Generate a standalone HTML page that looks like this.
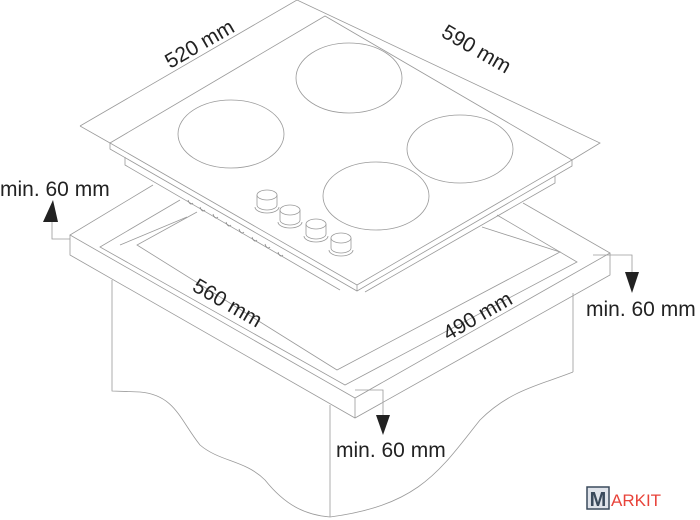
<!DOCTYPE html>
<html><head><meta charset="utf-8"><style>
html,body{margin:0;padding:0;background:#fff}
svg{display:block}
text{font-family:"Liberation Sans",sans-serif;fill:#222}
</style></head><body>
<svg width="700" height="520" viewBox="0 0 700 520" xmlns="http://www.w3.org/2000/svg">
<g fill="none" stroke="#9a9a9a" stroke-width="0.8">
<polyline points="80,126 297,0 600,143 572,160"/>
<line x1="80" y1="126" x2="110" y2="143"/>
<polygon points="110,143 325,16 572,160 357,285"/>
<polyline points="110,143 110,149 357,291 572,166 572,160"/>
<line x1="357" y1="285" x2="357" y2="291"/>
<polyline points="125,157 125,165 340,290"/>
<polyline points="555,176 555,183 365,292"/>
<g stroke="#888">
<path d="M188,200 q2,6 5,3 M200,207 q2,6 5,3 M213,214 q2,6 5,3 M226,222 q2,6 5,3 M239,229 q2,6 5,3 M252,237 q2,6 5,3 M265,244 q2,6 5,3 M278,252 q2,6 5,3"/>
</g>
<ellipse cx="231" cy="134" rx="53" ry="34"/>
<ellipse cx="349" cy="78" rx="53" ry="35"/>
<ellipse cx="460" cy="149" rx="53" ry="34"/>
<ellipse cx="376" cy="196" rx="53" ry="34"/>
<g>
<path d="M257,195 v10 a10,5 0 0 0 20,0 v-10"/><ellipse cx="267" cy="195" rx="10" ry="5"/><path d="M255,207 a12,6 0 0 0 24,0"/>
<path d="M280,210 v10 a10,5 0 0 0 20,0 v-10"/><ellipse cx="290" cy="210" rx="10" ry="5"/><path d="M278,222 a12,6 0 0 0 24,0"/>
<path d="M306,224 v10 a10,5 0 0 0 20,0 v-10"/><ellipse cx="316" cy="224" rx="10" ry="5"/><path d="M304,236 a12,6 0 0 0 24,0"/>
<path d="M331,238 v10 a10,5 0 0 0 20,0 v-10"/><ellipse cx="341" cy="238" rx="10" ry="5"/><path d="M329,250 a12,6 0 0 0 24,0"/>
</g>
<polyline points="153,185 70,235 355,398 610,253 523,203"/>
<polyline points="70,235 70,255 355,418 610,275 610,253"/>
<line x1="355" y1="398" x2="355" y2="418"/>
<polyline points="180,200 100,247 345,385 577,262 497,215"/>
<polyline points="187,217 120,245"/>
<polyline points="197,212 137,245 337,370 560,252 482,227"/>
<!-- cabinet -->
<polyline points="112,280 112,391 140,392"/>
<path d="M140,392 C175,395 180,420 200,445 C220,462 245,460 265,480 C285,505 305,515 330,517"/>
<line x1="330" y1="405" x2="330" y2="517"/>
<polyline points="573,293 573,372"/>
<path d="M573,372 C540,385 510,390 480,420 C440,470 420,505 330,517"/>
<polyline points="52,222 52,239 70,239"/>
<polyline points="593,255 632,255 632,272"/>
<polyline points="355,390 383,390 383,415"/>
</g>
<g fill="#222">
<polygon points="43,222 53,200 58,222"/>
<polygon points="625,272 639,272 632,293"/>
<polygon points="376,415 390,415 383,435"/>
</g>
<g font-size="21">
<text transform="translate(203,50) rotate(-30)" text-anchor="middle">520 mm</text>
<text transform="translate(473,55) rotate(30)" text-anchor="middle">590 mm</text>
<text transform="translate(224,309) rotate(30)" text-anchor="middle">560 mm</text>
<text transform="translate(481,322) rotate(-30)" text-anchor="middle">490 mm</text>
<text x="0" y="196">min. 60 mm</text>
<text x="586" y="316">min. 60 mm</text>
<text x="336" y="457">min. 60 mm</text>
</g>
<rect x="587" y="487" width="22" height="22" fill="#dfe3ea" stroke="#3a4a5c" stroke-width="1.5"/>
<text x="598" y="506" text-anchor="middle" font-size="20" font-weight="bold" style="fill:#3a4a5c">M</text>
<text x="611" y="506" font-size="17" style="fill:#e8433a">ARKIT</text>
</svg>
</body></html>
